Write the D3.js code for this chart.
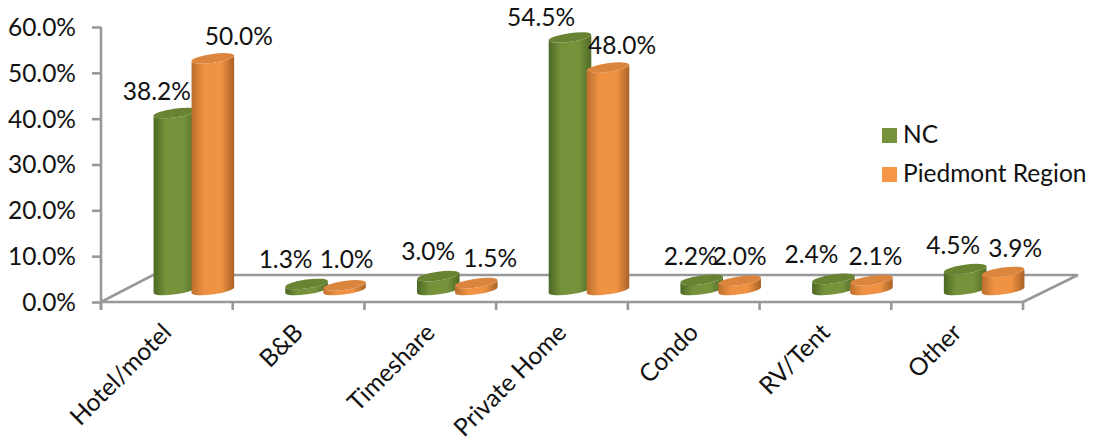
<!DOCTYPE html>
<html><head><meta charset="utf-8">
<script src="https://cdn.jsdelivr.net/npm/d3@7/dist/d3.min.js"></script>
<style>html,body{margin:0;padding:0;background:#fff}svg{display:block}text{font-family:Lato,"Open Sans",sans-serif;fill:#111}</style>
</head><body><svg id="c" width="1094" height="440"></svg>
<script>
const categories = ["Hotel/motel","B&B","Timeshare","Private Home","Condo","RV/Tent","Other"];
const seriesNames = ["NC","Piedmont Region"];
const ncValues = [38.2,1.3,3.0,54.5,2.2,2.4,4.5];
const piedmontValues = [50.0,1.0,1.5,48.0,2.0,2.1,3.9];
const yTicks = [0,10,20,30,40,50,60];
// hand-placed data label nudges, as in the source chart (px from the bar's top centre)
const ncLabelDx = [-18,-21,-10,-29,-11,-22,-12];
const ncLabelDy = [-13,-16,-16,-11.5,-15,-16,-15];
const pdLabelDx = [26,2,14,14,0,4,12];
const pdLabelDy = [-13,-17,-16,-13.5,-16,-15,-15];

const FS = 24.5;
const svg = d3.select("#c");
const x = d3.scaleBand().domain(categories).range([101,1023]);
const y = d3.scaleLinear().domain([0,60]).range([302,27]);
const depthX = 27, depthY = 27, backShift = 52;
const sub = d3.scalePoint().domain(seriesNames).range([-19,19]);
const baseLift = 12;
// the bars stand further back in the 3-D box, so their height scale differs a little from the axis
const barY = d3.scaleLinear().domain([0,60]).range([302-baseLift,24-baseLift]);
const rx = 21.5, ry = 4.4, rot = -8;
const rad = rot*Math.PI/180, ex = rx*Math.cos(rad), ey = rx*Math.sin(rad);
const colors = {
  "NC": {edgeL:"#4c6925",mid:"#76933c",edgeR:"#4f6a26",top:"#688432",leg:"#76933c"},
  "Piedmont Region": {edgeL:"#bd6f2d",mid:"#ef9244",edgeR:"#a96226",top:"#dc853f",leg:"#f79646"}
};
const defs = svg.append("defs");
seriesNames.forEach((s,i)=>{
  const g = defs.append("linearGradient").attr("id","g"+i).attr("x1",0).attr("x2",1).attr("y1",0).attr("y2",0);
  const c = colors[s];
  [[0,c.edgeL],[0.3,c.mid],[0.7,c.mid],[1,c.edgeR]].forEach(d=>g.append("stop").attr("offset",d[0]).attr("stop-color",d[1]));
});
const axisCol = "#989898", axisW = 2.6;
// floor
const floor = svg.append("g").attr("fill","none").attr("stroke",axisCol).attr("stroke-width",axisW);
const x0 = x.range()[0], x1 = x.range()[1], y0 = y(0), yb = y0-depthY;
floor.append("path").attr("d",`M${x0},${y0}L${x0+backShift},${yb}L${x1+55},${yb}L${x1},${y0}`);
// axes
const yAxis = d3.axisLeft(y).tickValues(yTicks).tickSize(9).tickPadding(16).tickFormat(d=>d.toFixed(1)+"%");
const ya = svg.append("g").attr("transform",`translate(${x0},0)`).call(yAxis);
ya.select(".domain").attr("d",`M0,${y(60)}V${y0+8}`).attr("stroke",axisCol).attr("stroke-width",axisW).attr("fill","none");
ya.selectAll(".tick line").attr("stroke",axisCol).attr("stroke-width",axisW);
ya.selectAll("text").attr("font-size",FS).attr("dy","0.34em").style("font-family","Lato");
const xa = svg.append("g").attr("transform",`translate(0,${y0})`).call(d3.axisBottom(x).tickSize(0).tickPadding(0));
xa.select(".domain").attr("stroke",axisCol).attr("stroke-width",axisW).attr("d",`M${x0},0H${x1}`);
xa.selectAll(".tick text").attr("font-size",FS).attr("text-anchor","end").attr("dy",0).attr("y",0)
  .attr("transform","translate(6,32) rotate(-45)").style("font-family","Lato");
xa.selectAll(".edge").data(x.domain().map(c=>x(c)).concat(x1)).enter().append("line").attr("class","edge")
  .attr("x1",d=>d).attr("x2",d=>d).attr("y1",0).attr("y2",8).attr("stroke",axisCol).attr("stroke-width",axisW);
// cylinders
const rows = categories.flatMap((c,i)=>[
  {c,i,s:seriesNames[0],si:0,v:ncValues[i],dx:ncLabelDx[i],dy:ncLabelDy[i]},
  {c,i,s:seriesNames[1],si:1,v:piedmontValues[i],dx:pdLabelDx[i],dy:pdLabelDy[i]}
]);
const cx = d=>x(d.c)+x.bandwidth()/2+depthX+sub(d.s);
const base = barY(0);
const topY = d=>barY(d.v);
const g = svg.append("g").selectAll("g").data(rows).enter().append("g");
g.append("path").attr("fill",d=>`url(#g${d.si})`).attr("d",d=>{
  const c=cx(d),t=topY(d);
  return `M${c-ex},${t-ey}L${c-ex},${base-ey}A${rx},${ry} ${rot} 0 0 ${c+ex},${base+ey}L${c+ex},${t+ey}A${rx},${ry} ${rot} 0 1 ${c-ex},${t-ey}Z`;
});
g.append("ellipse").attr("cx",cx).attr("cy",topY).attr("rx",rx).attr("ry",ry)
  .attr("transform",d=>`rotate(${rot} ${cx(d)} ${topY(d)})`).attr("fill",d=>colors[d.s].top);
// labels
svg.append("g").selectAll("text").data(rows).enter().append("text")
  .attr("x",d=>cx(d)+d.dx).attr("y",d=>topY(d)+d.dy).attr("text-anchor","middle").attr("font-size",FS)
  .text(d=>d.v.toFixed(1)+"%");
// legend
const lg = svg.append("g").selectAll("g").data(seriesNames).enter().append("g")
  .attr("transform",(d,i)=>`translate(882,${128+i*39})`);
lg.append("rect").attr("width",15).attr("height",15).attr("fill",d=>colors[d].leg);
lg.append("text").attr("x",21).attr("y",15).attr("font-size",FS).text(d=>d);
</script></body></html>
